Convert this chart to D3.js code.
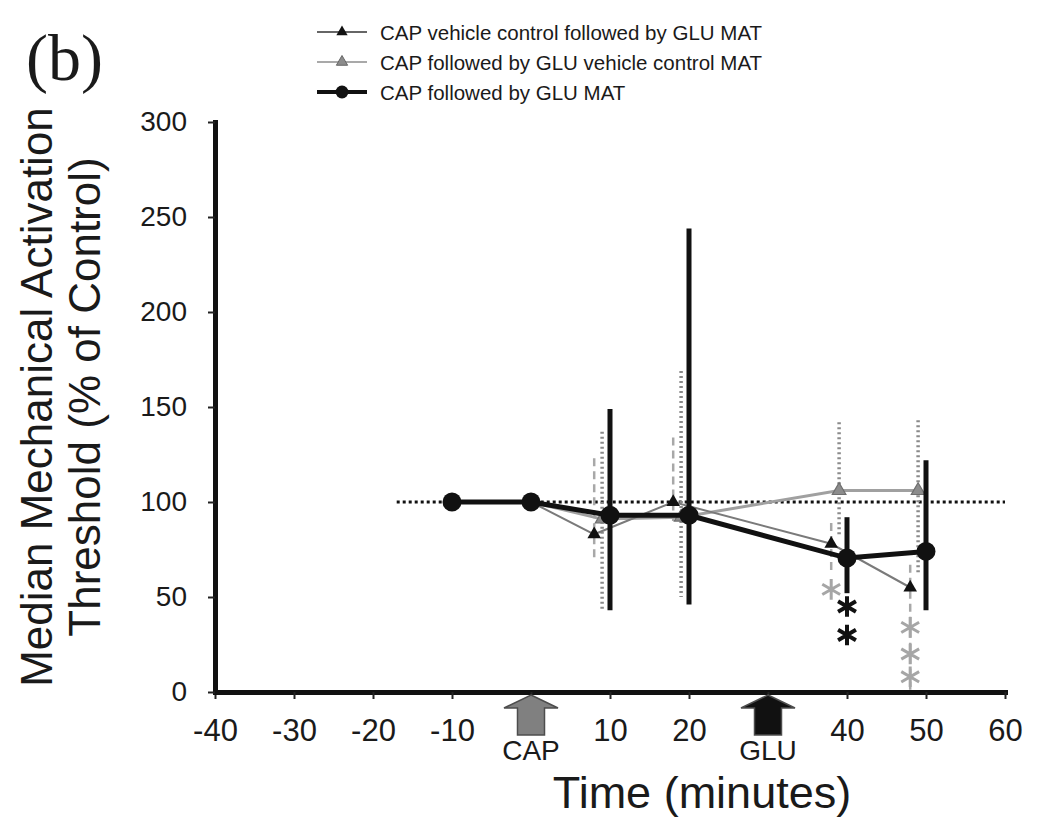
<!DOCTYPE html>
<html>
<head>
<meta charset="utf-8">
<script src="https://cdn.jsdelivr.net/npm/d3@7"></script>
<style>
  body { margin: 0; background: #fff; }
  text { font-family: "Liberation Sans", Arial, sans-serif; fill: #1a1a1a; }
</style>
</head>
<body>
<div id="chart"></div>
<script>
var svgWidth = 1050;
var svgHeight = 834;

// CAP followed by GLU MAT (black circles)
var timeC = [-10, 0, 10, 20, 40, 50];
var valueC = [100, 100, 93, 93, 70.5, 74];
var upperC = [100, 100, 149, 244, 92, 122];
var lowerC = [100, 100, 43, 46, 52, 43];

// CAP vehicle control followed by GLU MAT (black triangles)
var timeA = [-10, 0, 8, 18, 38, 48];
var valueA = [100, 100, 83, 100, 78, 55];
var upperA = [100, 100, 123, 134, 89, 67];
var lowerA = [100, 100, 69, 90, 63, 1];

// CAP followed by GLU vehicle control MAT (grey triangles)
var timeB = [-10, 0, 9, 19, 39, 49];
var valueB = [100, 100, 91, 92, 106, 106];
var upperB = [100, 100, 137, 169, 142, 143];
var lowerB = [100, 100, 43, 50, 83, 63];

// significance asterisks
var starTime = [38, 40, 40, 48, 48, 48];
var starValue = [54, 45, 30, 34, 20, 8];
var starGroup = ["A", "C", "C", "A", "A", "A"];

// drug application arrows
var treatTime = [0, 30];
var treatLabel = ["CAP", "GLU"];

var xTicks = [-40, -30, -20, -10, 0, 10, 20, 30, 40, 50, 60];
var yTicks = [0, 50, 100, 150, 200, 250, 300];
var legendLabels = [
  "CAP vehicle control followed by GLU MAT",
  "CAP followed by GLU vehicle control MAT",
  "CAP followed by GLU MAT"
];

var svg = d3.select("#chart")
  .append("svg")
  .attr("width", svgWidth)
  .attr("height", svgHeight);

var x = d3.scaleLinear().domain([-40, 60]).range([215, 1005]);
var y = d3.scaleLinear().domain([0, 300]).range([692, 122]);

function zip(t, v, lo, hi) {
  return t.map(function (d, i) {
    return { t: d, v: v[i], lo: lo[i], hi: hi[i] };
  });
}
var dataA = zip(timeA, valueA, lowerA, upperA);
var dataB = zip(timeB, valueB, lowerB, upperB);
var dataC = zip(timeC, valueC, lowerC, upperC);

// dotted 100% reference line
svg.append("line")
  .attr("x1", x(-17)).attr("x2", x(60))
  .attr("y1", y(100)).attr("y2", y(100))
  .attr("stroke", "#111")
  .attr("stroke-width", 3)
  .attr("stroke-dasharray", "3 3");

function errorBars(data, cls) {
  return svg.append("g").selectAll("line")
    .data(data.filter(function (d) { return d.hi !== d.lo; }))
    .enter().append("line")
    .attr("class", cls)
    .attr("x1", function (d) { return x(d.t); })
    .attr("x2", function (d) { return x(d.t); })
    .attr("y1", function (d) { return y(d.hi); })
    .attr("y2", function (d) { return y(d.lo); });
}

errorBars(dataB, "errB")
  .attr("stroke", "#8a8a8a")
  .attr("stroke-width", 3.5)
  .attr("stroke-dasharray", "2 3");

errorBars(dataA, "errA")
  .attr("stroke", "#a8a8a8")
  .attr("stroke-width", 2.5)
  .attr("stroke-dasharray", "8 5");

var line = d3.line()
  .x(function (d) { return x(d.t); })
  .y(function (d) { return y(d.v); });

svg.append("path").datum(dataB)
  .attr("d", line)
  .attr("fill", "none")
  .attr("stroke", "#a0a0a0")
  .attr("stroke-width", 3);

svg.append("path").datum(dataA)
  .attr("d", line)
  .attr("fill", "none")
  .attr("stroke", "#7a7a7a")
  .attr("stroke-width", 2);

var tri = d3.symbol().type(d3.symbolTriangle).size(80);

svg.append("g").selectAll("path")
  .data(dataB.slice(2))
  .enter().append("path")
  .attr("d", tri)
  .attr("transform", function (d) { return "translate(" + x(d.t) + "," + y(d.v) + ")"; })
  .attr("fill", "#8c8c8c")
  .attr("stroke", "#6e6e6e")
  .attr("stroke-width", 1.2);

svg.append("g").selectAll("path")
  .data(dataA.slice(2))
  .enter().append("path")
  .attr("d", tri)
  .attr("transform", function (d) { return "translate(" + x(d.t) + "," + y(d.v) + ")"; })
  .attr("fill", "#111");

// main series on top
svg.append("path").datum(dataC)
  .attr("d", line)
  .attr("fill", "none")
  .attr("stroke", "#111")
  .attr("stroke-width", 5);

errorBars(dataC, "errC")
  .attr("stroke", "#111")
  .attr("stroke-width", 5);

svg.append("g").selectAll("circle")
  .data(dataC)
  .enter().append("circle")
  .attr("cx", function (d) { return x(d.t); })
  .attr("cy", function (d) { return y(d.v); })
  .attr("r", 9.5)
  .attr("fill", "#111");

// asterisks
var starColor = { A: "#a6a6a6", C: "#111" };
var stars = starTime.map(function (t, i) {
  return { t: t, v: starValue[i], g: starGroup[i] };
});
if (d3.symbolAsterisk) {
  svg.append("g").selectAll("path")
    .data(stars)
    .enter().append("path")
    .attr("d", d3.symbol().type(d3.symbolAsterisk).size(300))
    .attr("transform", function (d) { return "translate(" + x(d.t) + "," + y(d.v) + ")"; })
    .attr("fill", "none")
    .attr("stroke", function (d) { return starColor[d.g]; })
    .attr("stroke-width", function (d) { return d.g === "C" ? 4 : 3; });
} else {
  svg.append("g").selectAll("text")
    .data(stars)
    .enter().append("text")
    .attr("x", function (d) { return x(d.t); })
    .attr("y", function (d) { return y(d.v) + 19; })
    .attr("text-anchor", "middle")
    .style("font-size", "36px")
    .style("fill", function (d) { return starColor[d.g]; })
    .text("*");
}

// axes
var xAxis = svg.append("g")
  .attr("transform", "translate(0," + y(0) + ")")
  .call(d3.axisBottom(x)
    .tickValues(xTicks)
    .tickSize(7)
    .tickSizeOuter(0)
    .tickPadding(20)
    .tickFormat(function (d) { return (d === 0 || d === 30) ? "" : d; }));

var yAxis = svg.append("g")
  .attr("transform", "translate(" + x(-40) + ",0)")
  .call(d3.axisLeft(y)
    .tickValues(yTicks)
    .tickSize(7)
    .tickSizeOuter(0)
    .tickPadding(21));

[xAxis, yAxis].forEach(function (ax) {
  ax.select(".domain").attr("stroke", "#111").attr("stroke-width", 5).attr("stroke-linecap", "square");
  ax.selectAll(".tick line").attr("stroke", "#222").attr("stroke-width", 2);
  ax.selectAll(".tick text").attr("fill", "#1a1a1a").style("font-family", "'Liberation Sans', Arial, sans-serif");
});
xAxis.selectAll(".tick text").style("font-size", "31px");
yAxis.selectAll(".tick text").style("font-size", "28px");

// treatment arrows below the time axis
var arrowFill = ["#808080", "#111"];
var arrows = svg.append("g").selectAll("g")
  .data(treatTime)
  .enter().append("g")
  .attr("transform", function (d) { return "translate(" + x(d) + ",0)"; });

arrows.append("path")
  .attr("d", "M0,695 L27,708 L13.5,708 L13.5,735 L-13.5,735 L-13.5,708 L-27,708 Z")
  .attr("fill", function (d, i) { return arrowFill[i]; })
  .attr("stroke", "#4d4d4d")
  .attr("stroke-width", 1.5);

arrows.append("text")
  .attr("y", 760)
  .attr("text-anchor", "middle")
  .style("font-size", "28px")
  .text(function (d, i) { return treatLabel[i]; });

// axis titles
svg.append("text")
  .attr("x", 702)
  .attr("y", 808)
  .attr("text-anchor", "middle")
  .style("font-size", "45px")
  .text("Time (minutes)");

var yTitle = svg.append("text")
  .attr("transform", "translate(0,397) rotate(-90)")
  .attr("text-anchor", "middle")
  .style("font-size", "44px");
yTitle.append("tspan").attr("x", 0).attr("y", 52).text("Median Mechanical Activation");
yTitle.append("tspan").attr("x", 0).attr("y", 100).text("Threshold (% of Control)");

// panel letter
svg.append("text")
  .attr("x", 26)
  .attr("y", 80)
  .style("font-family", "'Liberation Serif', 'Times New Roman', serif")
  .style("font-size", "66px")
  .text("(b)");

// legend
var legend = svg.append("g").selectAll("g")
  .data(legendLabels)
  .enter().append("g")
  .attr("transform", function (d, i) { return "translate(0," + (32 + i * 30) + ")"; });

var legendStroke = ["#333", "#8c8c8c", "#111"];
var legendWidth = [1.5, 1.5, 4];
legend.append("line")
  .attr("x1", 317).attr("x2", 367)
  .attr("stroke", function (d, i) { return legendStroke[i]; })
  .attr("stroke-width", function (d, i) { return legendWidth[i]; });

legend.append("path")
  .attr("d", function (d, i) {
    return i < 2 ? d3.symbol().type(d3.symbolTriangle).size(55)() : d3.symbol().type(d3.symbolCircle).size(130)();
  })
  .attr("transform", "translate(342,0)")
  .attr("fill", function (d, i) { return i === 1 ? "#8c8c8c" : "#111"; })
  .attr("stroke", function (d, i) { return i === 1 ? "#666" : "none"; });

legend.append("text")
  .attr("x", 380)
  .attr("y", 8)
  .style("font-size", "20.5px")
  .text(function (d) { return d; });
</script>
</body>
</html>
